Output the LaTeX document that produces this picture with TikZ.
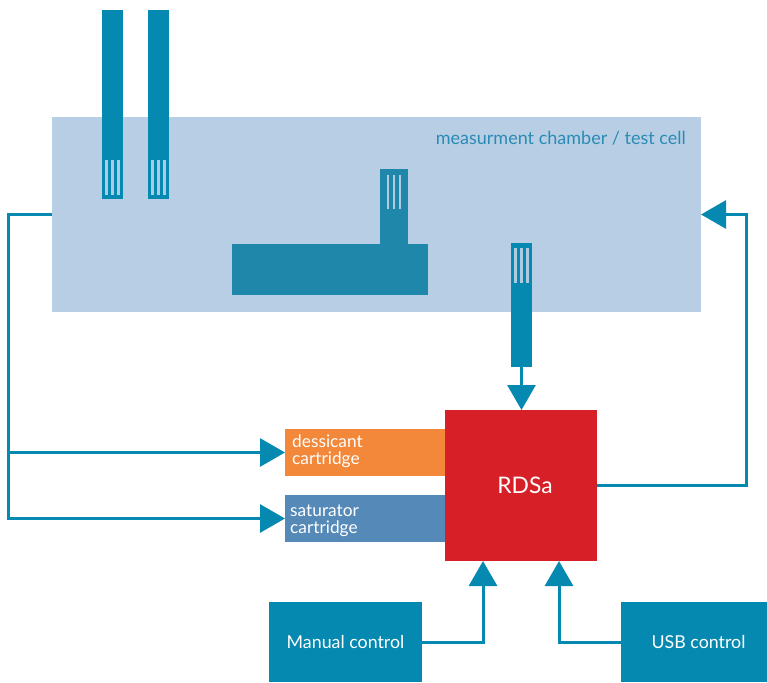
\documentclass[tikz,border=0pt]{standalone}
\usepackage{fontspec}
\setmainfont{Lato}
\usetikzlibrary{arrows.meta,calc}
\definecolor{teal}{RGB}{5,137,176}
\definecolor{tealdark}{RGB}{31,136,170}
\definecolor{chamberfill}{RGB}{183,206,228}
\definecolor{stripe}{RGB}{175,203,225}
\definecolor{chambertext}{RGB}{42,140,180}
\definecolor{rdsared}{RGB}{215,31,39}
\definecolor{desorange}{RGB}{243,135,58}
\definecolor{satblue}{RGB}{85,137,184}
\tikzset{
  box/.style={draw=none,inner sep=0pt,outer sep=0pt},
  probebox/.style={box,fill=teal,minimum width=21pt},
  stripeline/.style={draw=stripe,line width=2.4pt},
  conn/.style={draw=teal,line width=3pt},
  arr/.style={conn,-{Triangle[length=25pt,width=28pt]}},
  txt/.style={text=white,font=\fontsize{17.8}{16}\selectfont},
  cartlabel/.style={anchor=west,text=white,inner sep=0pt,font=\fontsize{17.3}{17}\selectfont},
}
\begin{document}
\begin{tikzpicture}[x=1pt,y=-1pt]
\useasboundingbox (0,0) rectangle (767,682);
% chamber
\node[box,fill=chamberfill,minimum width=649pt,minimum height=195pt] (chamber) at (376.5,214.5) {};
\node[anchor=east,inner sep=0pt,text=chambertext,font=\fontsize{18}{20}\selectfont] (chlabel) at (686,138) {measurment chamber / test cell};
% probes
\node[probebox,minimum height=189pt] (probe1) at (112.5,104.5) {};
\node[probebox,minimum height=189pt] (probe2) at (158.5,104.5) {};
\foreach \p in {probe1,probe2}{
  \foreach \dx in {-6,0,6}{
    \draw[stripeline] ([shift={(\dx,-4)}]\p.south) -- ([shift={(\dx,-39)}]\p.south);
  }
}
% T-shaped sensor block
\node[box,fill=tealdark,minimum width=196pt,minimum height=51pt] (tbase) at (330,269.5) {};
\node[box,fill=tealdark,minimum width=28pt,minimum height=76pt] (tsensor) at (394,206.5) {};
\foreach \dx in {-6,0,6}{
  \draw[stripeline] ([shift={(\dx,6)}]tsensor.north) -- ([shift={(\dx,40)}]tsensor.north);
}
% probe 3
\node[probebox,minimum height=124pt] (probe3) at (521.5,305) {};
\foreach \dx in {-6,0,6}{
  \draw[stripeline] ([shift={(\dx,5)}]probe3.north) -- ([shift={(\dx,40)}]probe3.north);
}
% cartridges and RDSa
\node[box,fill=desorange,minimum width=160pt,minimum height=47pt] (des) at (365,452.5) {};
\node[cartlabel,anchor=base west] (des1) at (292,447.5) {dessicant};
\node[cartlabel,anchor=base west] (des2) at (292,464) {cartridge};
\node[box,fill=satblue,minimum width=160pt,minimum height=47pt] (sat) at (365,518.5) {};
\node[cartlabel,anchor=base west] (sat1) at (290,516.5) {saturator};
\node[cartlabel,anchor=base west] (sat2) at (290,533) {cartridge};
\node[box,fill=rdsared,minimum width=152pt,minimum height=151pt,text=white,font=\fontsize{22.8}{26}\selectfont] (rdsa) at (521,485.5) {\hspace*{8pt}RDSa};
% controls
\node[box,fill=teal,minimum width=153pt,minimum height=80pt,txt] (manual) at (345.5,642) {Manual control};
\node[box,fill=teal,minimum width=146pt,minimum height=80pt,txt] (usb) at (694,642) {\hspace*{9pt}USB control};
% connectors
\coordinate (lx) at (8,214.5);
\coordinate (rx) at (746,0);
\draw[arr] (chamber.west) -- (lx) |- (sat.west);
\draw[arr] (lx |- des.west) -- (des.west);
\draw[arr] (rdsa.east) -- (rdsa.east -| rx) |- (chamber.east);
\draw[arr] (probe3.south) -- (probe3.south |- rdsa.north);
\draw[arr] (manual.east) -| ([xshift=-38pt]rdsa.south);
\draw[arr] (usb.west) -| ([xshift=38pt]rdsa.south);
\end{tikzpicture}
\end{document}
